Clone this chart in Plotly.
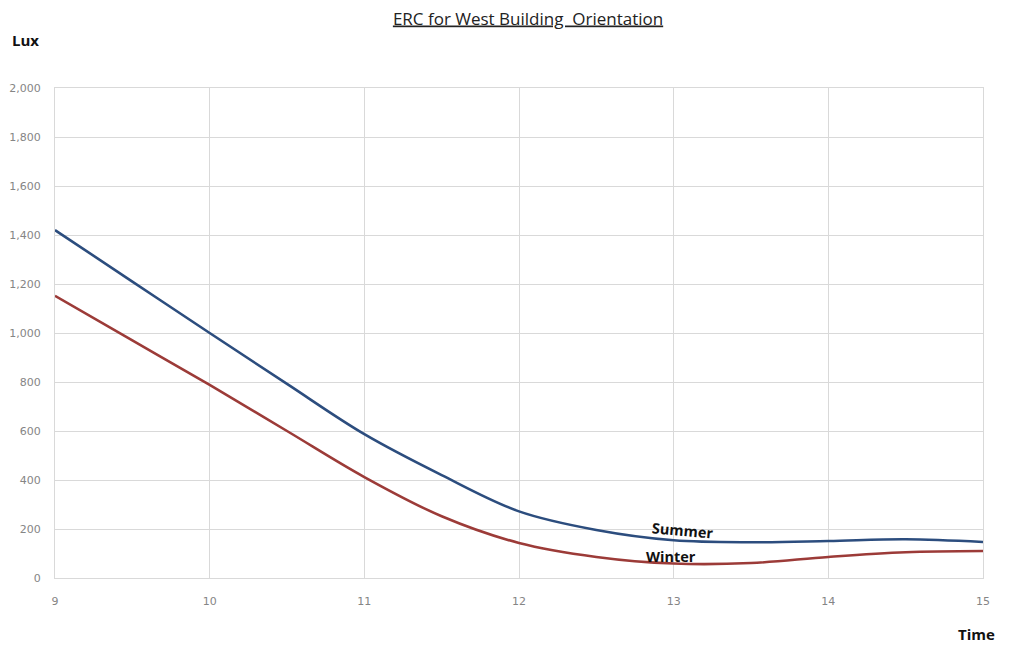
import plotly.graph_objects as go

hours = [9, 9.5, 10, 10.5, 11, 11.5, 12, 12.5, 13, 13.5, 14, 14.5, 15]
summer = [1420, 1210, 1000, 792, 587, 420, 272, 196, 154, 146, 151, 158, 147]
winter = [1152, 970, 788, 600, 412, 252, 143, 86, 59, 61, 86, 105, 110]
y_ticks = [0, 200, 400, 600, 800, 1000, 1200, 1400, 1600, 1800, 2000]
x_ticks = [9, 10, 11, 12, 13, 14, 15]

fig = go.Figure()
fig.add_trace(go.Scatter(x=hours, y=summer, mode="lines", name="Summer",
                         line=dict(color="#2C4D7E", width=2.6, shape="spline", smoothing=1.0)))
fig.add_trace(go.Scatter(x=hours, y=winter, mode="lines", name="Winter",
                         line=dict(color="#9C3B38", width=2.6, shape="spline", smoothing=1.0)))

fig.add_annotation(x=13.06, y=195, text="<b>Summer</b>", showarrow=False, textangle=5,
                   font=dict(family="Open Sans", size=14.5, color="#111111"))
fig.add_annotation(x=12.98, y=88, text="<b>Winter</b>", showarrow=False,
                   font=dict(family="Open Sans", size=14.5, color="#111111"))

fig.add_annotation(xref="paper", yref="paper", x=-0.0485, y=1.097, xanchor="left", yanchor="middle",
                   text="<b>Lux</b>", showarrow=False,
                   font=dict(family="Open Sans", size=15, color="#111111"))
fig.add_annotation(xref="paper", yref="paper", x=1.015, y=-0.115, xanchor="right", yanchor="middle",
                   text="<b>Time</b>", showarrow=False,
                   font=dict(family="Open Sans", size=15, color="#111111"))

fig.update_layout(
    width=1002, height=640,
    margin=dict(l=47, r=27, t=80, b=70, autoexpand=False),
    paper_bgcolor="white", plot_bgcolor="white",
    showlegend=False,
    title=dict(text="<u>ERC for West Building  Orientation</u>", x=0.519, xanchor="center",
               y=0.9835, yanchor="middle",
               font=dict(family="Open Sans", size=17, color="#222222")),
    xaxis=dict(range=[9, 15], tickvals=x_ticks, showgrid=True, gridcolor="#D9D9D9", gridwidth=1,
               showline=True, linecolor="#D9D9D9", mirror=True, zeroline=False,
               ticks="", ticklabelstandoff=13, automargin=False,
               tickfont=dict(family="DejaVu Sans", size=11, color="#858585")),
    yaxis=dict(range=[0, 2000], tickvals=y_ticks, tickformat=",", showgrid=True,
               gridcolor="#D9D9D9", gridwidth=1, showline=True, linecolor="#D9D9D9", mirror=True,
               zeroline=False, ticks="", ticklabelstandoff=11, automargin=False,
               tickfont=dict(family="DejaVu Sans", size=11, color="#858585")),
)

fig.write_html("out.html")
